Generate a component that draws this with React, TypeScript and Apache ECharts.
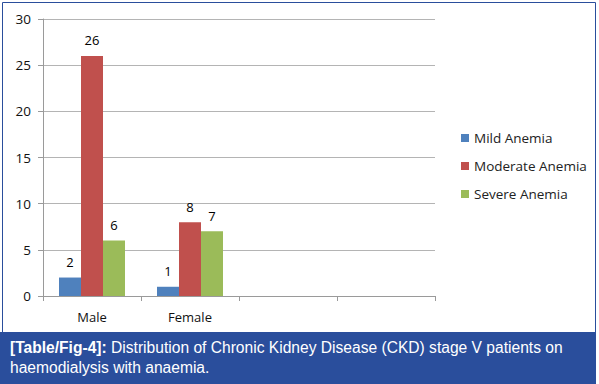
import React, { useEffect, useRef } from "react";
import * as echarts from "echarts";

const categories = ["Male", "Female", "", ""];
const mild = [2, 1, null, null];
const moderate = [26, 8, null, null];
const severe = [6, 7, null, null];
const seriesNames = ["Mild Anemia", "Moderate Anemia", "Severe Anemia"];
const yMin = 0;
const yMax = 30;
const yInterval = 5;

export default function App() {
  const ref = useRef<HTMLDivElement>(null);
  useEffect(() => {
    if (!ref.current) return;
    const chart = echarts.init(ref.current, null, { renderer: "svg" });
    const font = "'Open Sans', 'DejaVu Sans', sans-serif";
    const capFont = "'Liberation Sans', Arial, sans-serif";
    const mk = (name: string, data: (number | null)[], color: string) => ({
      name,
      type: "bar",
      data,
      barWidth: 22,
      barGap: "0%",
      itemStyle: { color },
      label: {
        show: true,
        position: "top",
        color: "#000",
        fontSize: 13,
        fontFamily: font,
        distance: 9,
      },
    });
    chart.setOption({
      animation: false,
      backgroundColor: "#fff",
      grid: { left: 43, right: 164, top: 19, bottom: 88 },
      legend: {
        orient: "vertical",
        left: 456,
        top: 126,
        itemWidth: 8,
        itemHeight: 8,
        itemGap: 14,
        icon: "rect",
        textStyle: { fontSize: 13.5, fontFamily: font, color: "#222" },
        data: seriesNames,
      },
      xAxis: {
        type: "category",
        data: categories,
        axisLine: { lineStyle: { color: "#9a9a9a" } },
        axisTick: { show: true, length: 5, lineStyle: { color: "#9a9a9a" } },
        axisLabel: { color: "#111", fontSize: 13, fontFamily: font, margin: 14 },
      },
      yAxis: {
        type: "value",
        min: yMin,
        max: yMax,
        interval: yInterval,
        axisLine: { show: true, lineStyle: { color: "#9a9a9a" } },
        axisTick: { show: true, length: 5, lineStyle: { color: "#9a9a9a" } },
        axisLabel: { color: "#111", fontSize: 13.5, fontFamily: font, margin: 12 },
        splitLine: { lineStyle: { color: "#b4b4b4" } },
      },
      series: [
        mk(seriesNames[0], mild, "#4f81bd"),
        mk(seriesNames[1], moderate, "#c0504d"),
        mk(seriesNames[2], severe, "#9bbb59"),
      ],
      graphic: [
        {
          type: "rect",
          shape: { x: 2.5, y: 2.5, width: 593, height: 330 },
          style: { fill: "none", stroke: "#2a4e9c", lineWidth: 1 },
          silent: true,
        },
        {
          type: "rect",
          shape: { x: 0, y: 332, width: 596, height: 52 },
          style: { fill: "#2a4e9c" },
          silent: true,
        },
        {
          type: "text",
          x: 10,
          y: 337,
          style: {
            text: "{b|[Table/Fig-4]:} Distribution of Chronic Kidney Disease (CKD) stage V patients on\nhaemodialysis with anaemia.",
            fill: "#fff",
            fontSize: 15.6,
            fontFamily: capFont,
            lineHeight: 20,
            rich: {
              b: {
                fontWeight: "bold",
                fill: "#fff",
                fontSize: 15.6,
                fontFamily: capFont,
                lineHeight: 20,
              },
            },
          },
          silent: true,
        },
      ],
    });
    return () => chart.dispose();
  }, []);
  return (
    <div
      ref={ref}
      style={{ position: "absolute", left: 0, top: 0, width: 599, height: 384 }}
    />
  );
}
